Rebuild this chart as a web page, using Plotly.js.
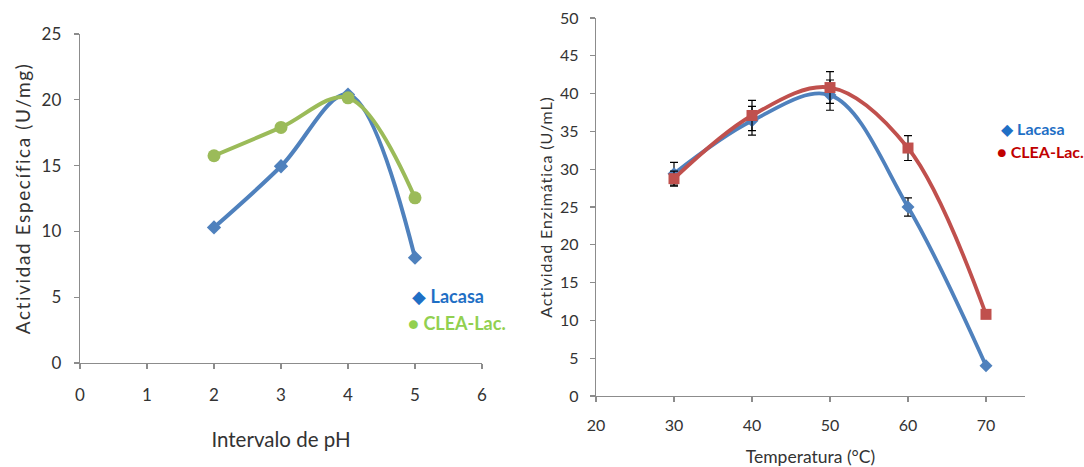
<!DOCTYPE html>
<html>
<head>
<meta charset="utf-8">
<script src="https://cdn.plot.ly/plotly-3.0.1.min.js"></script>
<style>
html,body{margin:0;padding:0;background:#fff;}
#chart{width:1084px;height:467px;}
text.ytitle{letter-spacing:1.6px;}
text.y2title{letter-spacing:0.9px;}
</style>
</head>
<body>
<div id="chart"></div>
<script>
// Left chart: specific activity vs pH
const phValues = [2, 3, 4, 5];
const lacasaPh = [10.3, 14.95, 20.4, 8.0];
const cleaPh = [15.75, 17.9, 20.15, 12.55];
const phTicks = [0, 1, 2, 3, 4, 5, 6];

// Right chart: enzymatic activity vs temperature
const tempValues = [30, 40, 50, 60, 70];
const lacasaTemp = [29.4, 36.4, 39.8, 25.0, 4.0];
const lacasaTempErr = [1.5, 1.9, 2.0, 1.2, 0];
const cleaTemp = [28.75, 37.1, 40.8, 32.8, 10.8];
const cleaTempErr = [1.0, 2.0, 2.1, 1.65, 0];
const tempTicks = [20, 30, 40, 50, 60, 70];

const FONT = 'Lato, "Open Sans", sans-serif';
const AX = '#8c8c8c';
const TXT = '#333333';

const traces = [
  {x: phValues, y: lacasaPh, xaxis: 'x', yaxis: 'y', mode: 'lines+markers', name: 'Lacasa',
   line: {color: '#4F81BD', width: 4, shape: 'spline', smoothing: 1},
   marker: {symbol: 'diamond', size: 11, color: '#4F81BD'}, showlegend: false},
  {x: phValues, y: cleaPh, xaxis: 'x', yaxis: 'y', mode: 'lines+markers', name: 'CLEA-Lac.',
   line: {color: '#9BBB59', width: 4, shape: 'spline', smoothing: 1},
   marker: {symbol: 'circle', size: 13, color: '#9BBB59'}, showlegend: false},
  {x: tempValues, y: lacasaTemp, xaxis: 'x2', yaxis: 'y2', mode: 'lines+markers', name: 'Lacasa',
   line: {color: '#4F81BD', width: 3.8, shape: 'spline', smoothing: 1},
   marker: {symbol: 'diamond', size: 10, color: '#4F81BD'},
   error_y: {type: 'data', array: lacasaTempErr, visible: true, color: '#000', thickness: 1.2, width: 4},
   showlegend: false},
  {x: tempValues, y: cleaTemp, xaxis: 'x2', yaxis: 'y2', mode: 'lines+markers', name: 'CLEA-Lac.',
   line: {color: '#C0504D', width: 3.8, shape: 'spline', smoothing: 1},
   marker: {symbol: 'square', size: 11, color: '#C0504D'},
   error_y: {type: 'data', array: cleaTempErr, visible: true, color: '#000', thickness: 1.2, width: 4},
   showlegend: false}
];

function axisBase(extra) {
  return Object.assign({
    showgrid: false, zeroline: false, showline: true, linecolor: AX, linewidth: 1.3,
    ticks: 'outside', ticklen: 5, tickcolor: AX, tickwidth: 1.3,
    tickfont: {family: FONT, size: 17, color: TXT}, automargin: false, fixedrange: true
  }, extra);
}

const layout = {
  width: 1084, height: 467,
  margin: {l: 0, r: 0, t: 0, b: 0},
  paper_bgcolor: '#fff', plot_bgcolor: '#fff',
  showlegend: false,
  font: {family: FONT, color: TXT},
  xaxis: axisBase({domain: [80/1084, 482/1084], range: [0, 6], tickvals: phTicks, anchor: 'y',
    ticklabelstandoff: 11,
    title: {text: 'Intervalo de pH', font: {family: FONT, size: 20.5, color: TXT}, standoff: 29}}),
  yaxis: axisBase({domain: [104/467, 433/467], range: [0, 25], dtick: 5, anchor: 'x',
    ticklabelstandoff: 9,
    title: {text: 'Actividad Específica (U/mg)', font: {family: FONT, size: 19, color: TXT}, standoff: 6}}),
  xaxis2: axisBase({domain: [596/1084, 1025/1084], range: [20, 75], tickvals: tempTicks, anchor: 'y2',
    ticklabelstandoff: 9,
    tickfont: {family: FONT, size: 16, color: TXT},
    title: {text: 'Temperatura (°C)', font: {family: FONT, size: 17.5, color: TXT}, standoff: 24}}),
  yaxis2: axisBase({domain: [71/467, 449/467], range: [0, 50], dtick: 5, anchor: 'x2',
    ticklabelstandoff: 8,
    tickfont: {family: FONT, size: 16, color: TXT},
    title: {text: 'Actividad Enzimática (U/mL)', font: {family: FONT, size: 16, color: TXT}, standoff: 3}}),
  annotations: [
    {xref: 'paper', yref: 'paper', x: 410/1084, y: 1 - 296/467, xanchor: 'left', yanchor: 'middle', showarrow: false,
     text: '<span style="color:#1F6FC5">◆ <b>Lacasa</b></span>', font: {family: FONT, size: 18}},
    {xref: 'paper', yref: 'paper', x: 406/1084, y: 1 - 323/467, xanchor: 'left', yanchor: 'middle', showarrow: false,
     text: '<span style="color:#92D050">● <b>CLEA-Lac.</b></span>', font: {family: FONT, size: 18}},
    {xref: 'paper', yref: 'paper', x: 999/1084, y: 1 - 128/467, xanchor: 'left', yanchor: 'middle', showarrow: false,
     text: '<span style="color:#1F6FC5">◆ <b>Lacasa</b></span>', font: {family: FONT, size: 16}},
    {xref: 'paper', yref: 'paper', x: 995/1084, y: 1 - 151/467, xanchor: 'left', yanchor: 'middle', showarrow: false,
     text: '<span style="color:#C00000">● <b>CLEA-Lac.</b></span>', font: {family: FONT, size: 16}}
  ]
};

Plotly.newPlot('chart', traces, layout, {displayModeBar: false, staticPlot: true});
</script>
</body>
</html>
